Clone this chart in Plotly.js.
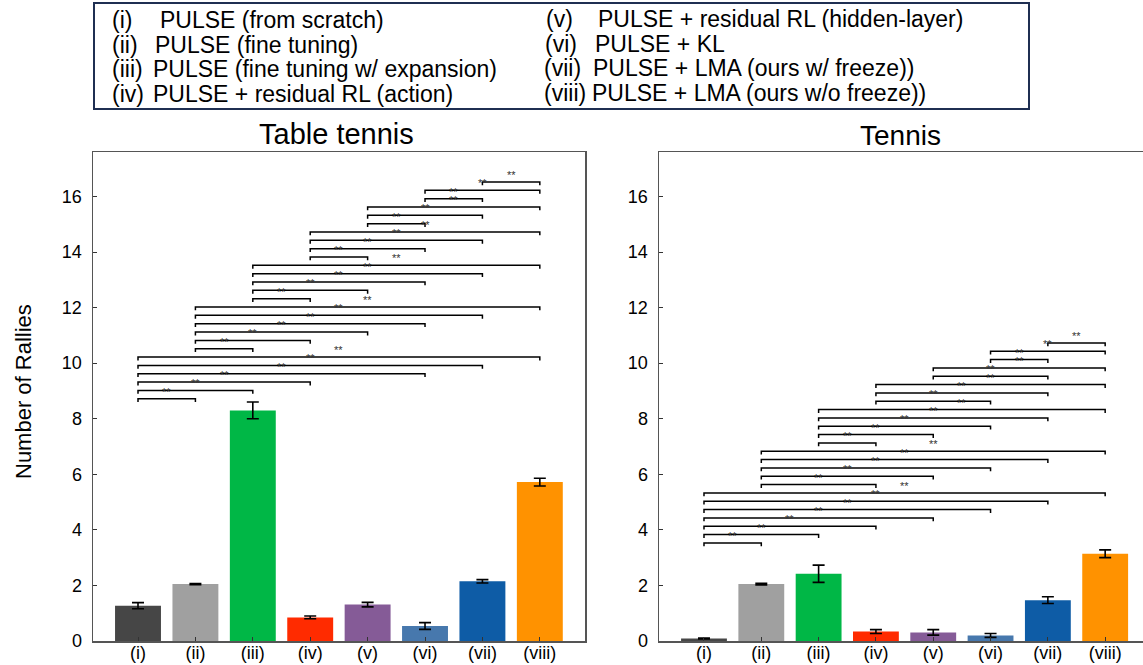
<!DOCTYPE html>
<html>
<head>
<meta charset="utf-8">
<script src="https://cdn.plot.ly/plotly-3.0.1.min.js"></script>
<style>
  html, body { margin: 0; padding: 0; background: #fff; }
  #chart { width: 1143px; height: 665px; }
</style>
</head>
<body>
<div id="chart"></div>
<script>
// Method labels on the x axis
const categories = ['(i)', '(ii)', '(iii)', '(iv)', '(v)', '(vi)', '(vii)', '(viii)'];

// Legend entries (numeral, description)
const methodNumerals = ['(i)', '(ii)', '(iii)', '(iv)', '(v)', '(vi)', '(vii)', '(viii)'];
const methodNames = [
  'PULSE (from scratch)',
  'PULSE (fine tuning)',
  'PULSE (fine tuning w/ expansion)',
  'PULSE + residual RL (action)',
  'PULSE + residual RL (hidden-layer)',
  'PULSE + KL',
  'PULSE + LMA (ours w/ freeze))',
  'PULSE + LMA (ours w/o freeze))'
];

// Table tennis: mean rallies and error
const tableTennisMean = [1.27, 2.05, 8.30, 0.85, 1.31, 0.54, 2.15, 5.72];
const tableTennisErr  = [0.11, 0.02, 0.30, 0.05, 0.08, 0.12, 0.06, 0.14];

// Tennis: mean rallies and error
const tennisMean = [0.09, 2.05, 2.42, 0.34, 0.31, 0.20, 1.47, 3.14];
const tennisErr  = [0.02, 0.03, 0.31, 0.07, 0.10, 0.07, 0.12, 0.14];

// Significant pairs (indices into categories), marked "**"
const tableTennisPairs = [
  [0,1],[0,2],[0,3],[0,5],[0,6],[0,7],
  [1,2],[1,3],[1,4],[1,5],[1,6],[1,7],
  [2,3],[2,4],[2,5],[2,6],[2,7],
  [3,4],[3,5],[3,6],[3,7],
  [4,5],[4,6],[4,7],
  [5,6],[5,7],
  [6,7]
];
const tennisPairs = [
  [0,1],[0,2],[0,3],[0,4],[0,5],[0,6],[0,7],
  [1,3],[1,4],[1,5],[1,6],[1,7],
  [2,3],[2,4],[2,5],[2,6],[2,7],
  [3,5],[3,6],[3,7],
  [4,6],[4,7],
  [5,6],[5,7],
  [6,7]
];

const barColors = ['#464646', '#a0a0a0', '#00b746', '#ff2b00', '#855b97', '#4778ad', '#0e5ca6', '#ff9200'];

const W = 1143, H = 665;
const M = { l: 93, r: 0, t: 152, b: 24 };
const plotW = W - M.l - M.r, plotH = H - M.t - M.b;
const px2x = p => (p - M.l) / plotW;
const py2y = p => (H - M.b - p) / plotH;

const FONT = 'Arial, "Liberation Sans", sans-serif';

const traces = [
  {
    type: 'bar', x: categories, y: tableTennisMean,
    marker: { color: barColors, line: { width: 0 } },
    error_y: { type: 'data', array: tableTennisErr, visible: true, color: '#000', thickness: 1.6, width: 6 },
    xaxis: 'x', yaxis: 'y', hoverinfo: 'x+y', showlegend: false
  },
  {
    type: 'bar', x: categories, y: tennisMean,
    marker: { color: barColors, line: { width: 0 } },
    error_y: { type: 'data', array: tennisErr, visible: true, color: '#000', thickness: 1.6, width: 6 },
    xaxis: 'x2', yaxis: 'y2', hoverinfo: 'x+y', showlegend: false
  }
];

const shapes = [];
const annotations = [];

// Stacked significance brackets with "**" above each
function addBrackets(pairs, base, step, xref, yref) {
  pairs.forEach((p, k) => {
    const y = base + k * step;
    const d = 0.12;
    shapes.push({
      type: 'path', xref: xref, yref: yref,
      path: `M ${p[0]},${y - d} L ${p[0]},${y} L ${p[1]},${y} L ${p[1]},${y - d}`,
      line: { color: '#000', width: 1.5 }
    });
    annotations.push({
      xref: xref, yref: yref, x: (p[0] + p[1]) / 2, y: y,
      text: '**', showarrow: false, yanchor: 'middle', yshift: 7,
      font: { family: FONT, size: 11, color: '#333' }
    });
  });
}
addBrackets(tableTennisPairs, 8.72, 0.30, 'x', 'y');
addBrackets(tennisPairs, 3.53, 0.30, 'x2', 'y2');

// Legend box listing the methods
shapes.push({
  type: 'rect', xref: 'paper', yref: 'paper',
  x0: px2x(94), x1: px2x(1029), y0: py2y(109), y1: py2y(3),
  line: { color: '#1f2f52', width: 2 }, fillcolor: 'rgba(0,0,0,0)'
});
const legendRows = [20, 45, 69, 94, 19, 44, 68, 93];
const numeralX = [110, 110, 110, 110, 544, 543, 542, 542];
const nameX = [158, 153, 151, 151, 596, 593, 591, 590];
methodNames.forEach((name, i) => {
  annotations.push({
    xref: 'paper', yref: 'paper', x: px2x(numeralX[i]), y: py2y(legendRows[i]),
    xanchor: 'left', yanchor: 'middle', showarrow: false, text: methodNumerals[i],
    font: { family: FONT, size: 23, color: '#000' }
  });
  annotations.push({
    xref: 'paper', yref: 'paper', x: px2x(nameX[i]), y: py2y(legendRows[i]),
    xanchor: 'left', yanchor: 'middle', showarrow: false, text: name,
    font: { family: FONT, size: 23, color: '#000' }
  });
});

// Panel titles
annotations.push({
  xref: 'paper', yref: 'paper', x: px2x(336), y: py2y(134),
  xanchor: 'center', yanchor: 'middle', showarrow: false, text: 'Table tennis',
  font: { family: FONT, size: 29, color: '#000' }
});
annotations.push({
  xref: 'paper', yref: 'paper', x: px2x(900), y: py2y(136),
  xanchor: 'center', yanchor: 'middle', showarrow: false, text: 'Tennis',
  font: { family: FONT, size: 28, color: '#000' }
});
// Shared y axis title
annotations.push({
  xref: 'paper', yref: 'paper', x: px2x(23), y: py2y(392),
  xanchor: 'center', yanchor: 'middle', showarrow: false, textangle: -90,
  text: 'Number of Rallies',
  font: { family: FONT, size: 22, color: '#000' }
});

const xCommon = {
  type: 'category', showline: true, linecolor: '#555', linewidth: 1.5, mirror: true,
  ticks: 'inside', ticklen: 4, tickcolor: '#333', showgrid: false, zeroline: false,
  ticklabelstandoff: -5,
  tickfont: { family: FONT, size: 18, color: '#000' }
};
const yCommon = {
  range: [0, 17.6], tickvals: [0, 2, 4, 6, 8, 10, 12, 14, 16],
  showline: true, linecolor: '#555', linewidth: 1.5, mirror: true,
  ticks: 'inside', ticklen: 4, tickcolor: '#333', showgrid: false, zeroline: false,
  ticklabelstandoff: 6,
  tickfont: { family: FONT, size: 18, color: '#000' }
};

const layout = {
  width: W, height: H,
  margin: M,
  paper_bgcolor: '#fff', plot_bgcolor: '#fff',
  bargap: 0.2,
  showlegend: false,
  xaxis: Object.assign({}, xCommon, { domain: [0, px2x(585)], range: [-0.784, 7.787], anchor: 'y' }),
  yaxis: Object.assign({}, yCommon, { anchor: 'x' }),
  xaxis2: Object.assign({}, xCommon, { domain: [px2x(659), 1], range: [-0.785, 7.66], anchor: 'y2' }),
  yaxis2: Object.assign({}, yCommon, { anchor: 'x2' }),
  shapes: shapes,
  annotations: annotations
};

Plotly.newPlot('chart', traces, layout, { displayModeBar: false, staticPlot: true });
</script>
</body>
</html>
